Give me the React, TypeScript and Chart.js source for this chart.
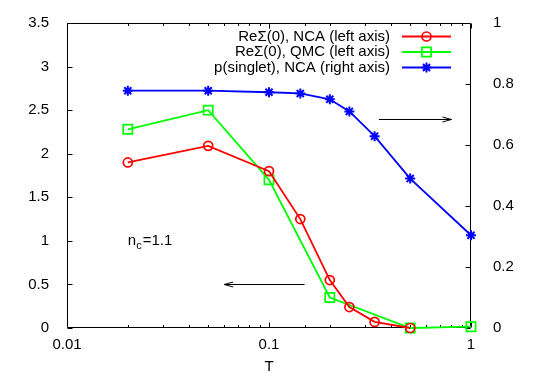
import React, { useEffect, useRef } from 'react';
import { Chart, registerables } from 'chart.js';
import { drawPoint } from 'chart.js/helpers';

Chart.register(...registerables);

// ---- data ----
const ncaTemperatures = [0.02, 0.05, 0.1, 0.1429, 0.2, 0.25, 0.3333, 0.5];
const reSigmaNCA = [1.9, 2.09, 1.8, 1.25, 0.55, 0.24, 0.07, 0.0];

const qmcTemperatures = [0.02, 0.05, 0.1, 0.2, 0.5, 1];
const reSigmaQMC = [2.28, 2.5, 1.7, 0.35, 0.0, 0.015];

const singletTemperatures = [0.02, 0.05, 0.1, 0.1429, 0.2, 0.25, 0.3333, 0.5, 1];
const pSingletNCA = [0.778, 0.778, 0.773, 0.769, 0.75, 0.71, 0.629, 0.49, 0.304];

const seriesLabels = [
  'ReΣ(0), NCA (left axis)',
  'ReΣ(0), QMC (left axis)',
  'p(singlet), NCA (right axis)',
];

const xTickValues = [0.01, 0.1, 1];
const xTickLabels = ['0.01', '0.1', '1'];
const leftTickValues = [0, 0.5, 1, 1.5, 2, 2.5, 3, 3.5];
const leftTickLabels = ['0', '0.5', '1', '1.5', '2', '2.5', '3', '3.5'];
const rightTickValues = [0, 0.2, 0.4, 0.6, 0.8, 1];
const rightTickLabels = ['0', '0.2', '0.4', '0.6', '0.8', '1'];

const xAxisTitle = 'T';

// annotations (data coordinates)
const rightArrow = { fromX: 0.35, toX: 0.8, y: 2.4 };
const leftArrow = { fromX: 0.15, toX: 0.06, y: 0.5 };
const ncLabel = { x: 0.02, y: 1.0, main: 'n', sub: 'c', rest: '=1.1' };

const FONT = '"Liberation Sans", Arial, Helvetica, sans-serif';
const FS = 15;

function lookup(values: number[], labels: string[], v: number, log = false) {
  for (let i = 0; i < values.length; i++) {
    const d = log ? Math.abs(Math.log10(v) - Math.log10(values[i])) : Math.abs(v - values[i]);
    if (d < 1e-6) return labels[i];
  }
  return '';
}

const framePlugin = {
  id: 'gpFrame',
  beforeDatasetsDraw(chart: any) {
    const { ctx, chartArea: a, scales } = chart;
    const L = a.left + 0.5, R = a.right - 0.5, T = a.top + 0.5, B = a.bottom - 0.5;
    ctx.save();
    ctx.strokeStyle = '#000';
    ctx.lineWidth = 1;
    ctx.beginPath();
    ctx.rect(L, T, R - L, B - T);
    ctx.stroke();
    ctx.beginPath();
    // x ticks (bottom and mirrored top)
    scales.x.ticks.forEach((t: any) => {
      const lg = Math.log10(t.value);
      const major = Math.abs(lg - Math.round(lg)) < 1e-6;
      const len = major ? 5 : 2.5;
      const px = Math.round(scales.x.getPixelForValue(t.value)) + 0.5;
      ctx.moveTo(px, B); ctx.lineTo(px, B - len);
      ctx.moveTo(px, T); ctx.lineTo(px, T + len);
    });
    scales.y.ticks.forEach((t: any) => {
      const py = Math.round(scales.y.getPixelForValue(t.value)) + 0.5;
      ctx.moveTo(L, py); ctx.lineTo(L + 5, py);
    });
    scales.y2.ticks.forEach((t: any) => {
      const py = Math.round(scales.y2.getPixelForValue(t.value)) + 0.5;
      ctx.moveTo(R, py); ctx.lineTo(R - 5, py);
    });
    ctx.stroke();
    ctx.restore();
  },
  afterDatasetsDraw(chart: any) {
    const { ctx, chartArea: a, scales } = chart;
    ctx.save();
    // legend
    const textRight = a.right - 81;
    const sampleL = a.right - 69;
    const sampleR = a.right - 20;
    chart.data.datasets.forEach((ds: any, i: number) => {
      const y = a.top + 13.5 + i * 15.5;
      ctx.font = `${FS}px ${FONT}`;
      ctx.fillStyle = '#000';
      ctx.textAlign = 'right';
      ctx.textBaseline = 'middle';
      ctx.fillText(ds.label, textRight, y);
      ctx.strokeStyle = ds.borderColor;
      ctx.lineWidth = ds.borderWidth;
      ctx.beginPath();
      ctx.moveTo(sampleL, y);
      ctx.lineTo(sampleR, y);
      ctx.stroke();
      ctx.fillStyle = 'rgba(0,0,0,0)';
      ctx.lineWidth = ds.pointBorderWidth;
      drawPoint(ctx, { pointStyle: ds.pointStyle, radius: ds.pointRadius, rotation: 0, borderWidth: ds.pointBorderWidth }, (sampleL + sampleR) / 2, y);
    });
    // arrows
    const drawArrow = (x1: number, x2: number, yv: number) => {
      const px1 = scales.x.getPixelForValue(x1);
      const px2 = scales.x.getPixelForValue(x2);
      const py = Math.round(scales.y.getPixelForValue(yv)) + 0.5;
      const dir = px2 > px1 ? 1 : -1;
      ctx.strokeStyle = '#000';
      ctx.lineWidth = 1;
      ctx.beginPath();
      ctx.moveTo(px1, py);
      ctx.lineTo(px2, py);
      ctx.moveTo(px2 - dir * 9, py - 2.5);
      ctx.lineTo(px2, py);
      ctx.lineTo(px2 - dir * 9, py + 2.5);
      ctx.stroke();
    };
    drawArrow(rightArrow.fromX, rightArrow.toX, rightArrow.y);
    drawArrow(leftArrow.fromX, leftArrow.toX, leftArrow.y);
    // n_c label
    let lx = scales.x.getPixelForValue(ncLabel.x);
    const ly = scales.y.getPixelForValue(ncLabel.y);
    ctx.fillStyle = '#000';
    ctx.textAlign = 'left';
    ctx.textBaseline = 'middle';
    ctx.font = `${FS}px ${FONT}`;
    ctx.fillText(ncLabel.main, lx, ly);
    lx += ctx.measureText(ncLabel.main).width;
    ctx.font = `11px ${FONT}`;
    ctx.fillText(ncLabel.sub, lx, ly + 5);
    lx += ctx.measureText(ncLabel.sub).width + 1;
    ctx.font = `${FS}px ${FONT}`;
    ctx.fillText(ncLabel.rest, lx, ly);
    ctx.restore();
  },
};

export default function App() {
  const ref = useRef<HTMLCanvasElement | null>(null);
  useEffect(() => {
    document.body.style.margin = '0';
    const canvas = ref.current;
    if (!canvas) return;
    const tickFont = { family: FONT, size: FS };
    const chart = new Chart(canvas, {
      type: 'line',
      data: {
        datasets: [
          {
            label: seriesLabels[0],
            data: ncaTemperatures.map((t, i) => ({ x: t, y: reSigmaNCA[i] })),
            yAxisID: 'y',
            borderColor: '#ff0000',
            backgroundColor: 'rgba(0,0,0,0)',
            borderWidth: 1.8,
            pointStyle: 'circle',
            pointRadius: 4.5,
            pointBorderWidth: 1.7,
            pointBackgroundColor: 'rgba(0,0,0,0)',
            pointBorderColor: '#ff0000',
            clip: 10,
          },
          {
            label: seriesLabels[1],
            data: qmcTemperatures.map((t, i) => ({ x: t, y: reSigmaQMC[i] })),
            yAxisID: 'y',
            borderColor: '#00ff00',
            backgroundColor: 'rgba(0,0,0,0)',
            borderWidth: 1.8,
            pointStyle: 'rect',
            pointRadius: 6.5,
            pointBorderWidth: 1.7,
            pointBackgroundColor: 'rgba(0,0,0,0)',
            pointBorderColor: '#00ff00',
            clip: 10,
          },
          {
            label: seriesLabels[2],
            data: singletTemperatures.map((t, i) => ({ x: t, y: pSingletNCA[i] })),
            yAxisID: 'y2',
            borderColor: '#0000ff',
            backgroundColor: 'rgba(0,0,0,0)',
            borderWidth: 1.8,
            pointStyle: 'star',
            pointRadius: 5,
            pointBorderWidth: 2,
            pointBackgroundColor: 'rgba(0,0,0,0)',
            pointBorderColor: '#0000ff',
            clip: 10,
          },
        ],
      },
      options: {
        animation: false,
        responsive: false,
        devicePixelRatio: 1,
        layout: { padding: { top: 19, left: 0, right: 0, bottom: 0 } },
        plugins: { legend: { display: false }, tooltip: { enabled: false } },
        elements: { line: { tension: 0 } },
        scales: {
          x: {
            type: 'logarithmic',
            position: 'bottom',
            min: 0.01,
            max: 1,
            grid: { display: false },
            border: { display: false },
            ticks: {
              autoSkip: false,
              maxRotation: 0,
              minRotation: 0,
              padding: 0,
              color: '#000',
              font: tickFont,
              callback: (v: any) => lookup(xTickValues, xTickLabels, Number(v), true),
            },
            title: { display: true, text: xAxisTitle, color: '#000', font: tickFont, padding: { top: 0, bottom: 1 } },
            afterFit: (s: any) => { s.height = 49; },
          },
          y: {
            type: 'linear',
            position: 'left',
            min: 0,
            max: 3.5,
            grid: { display: false },
            border: { display: false },
            ticks: {
              stepSize: 0.5,
              padding: 10,
              color: '#000',
              font: tickFont,
              callback: (v: any) => lookup(leftTickValues, leftTickLabels, Number(v)),
            },
            afterFit: (s: any) => { s.width = 67; },
          },
          y2: {
            type: 'linear',
            position: 'right',
            min: 0,
            max: 1,
            grid: { display: false },
            border: { display: false },
            ticks: {
              stepSize: 0.2,
              padding: 14,
              color: '#000',
              font: tickFont,
              callback: (v: any) => lookup(rightTickValues, rightTickLabels, Number(v)),
            },
            afterFit: (s: any) => { s.width = 67; },
          },
        },
      },
      plugins: [framePlugin],
    } as any);
    return () => chart.destroy();
  }, []);
  return (
    <div style={{ width: 538, height: 377 }}>
      <canvas ref={ref} width={538} height={377} style={{ display: 'block', width: 538, height: 377 }} />
    </div>
  );
}
